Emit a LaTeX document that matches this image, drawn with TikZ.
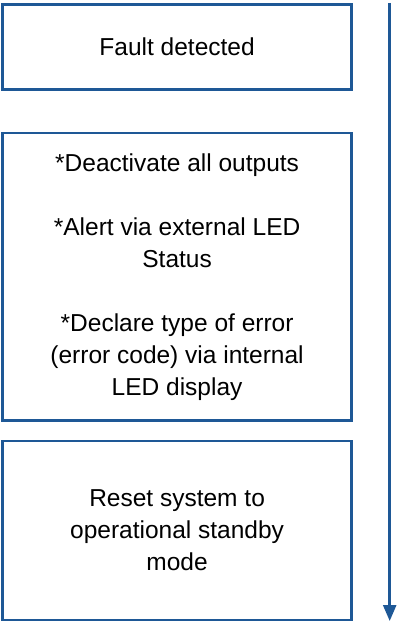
\documentclass[tikz,border=0pt]{standalone}
\usepackage{fontspec}
\setmainfont{Liberation Sans}
\usetikzlibrary{arrows.meta}

\definecolor{flowblue}{RGB}{30,88,150}

\tikzset{
	stepbox/.style={draw=flowblue,line width=2.7bp,minimum width=349bp,align=center,inner sep=0pt,
		font=\fontsize{24.5bp}{32bp}\selectfont},
}

\begin{document}
\begin{tikzpicture}[x=1bp,y=-1bp]
	\useasboundingbox (0,0) rectangle (397,622);
	% the three steps
	\node[stepbox,minimum height=85bp] (fault) at (177.1,47) {Fault detected};
	\node[stepbox,minimum height=287.5bp] (react) at (177.1,276.75) {*Deactivate all outputs\\[32bp]*Alert via external LED\\Status\\[32bp]*Declare type of error\\(error code) via internal\\LED display};
	\node[stepbox,minimum height=179bp] (reset) at (177.1,530.5) {Reset system to\\operational standby\\mode};
	% order of the steps
	\coordinate (flowtop) at (389.7,3);
	\coordinate (flowend) at (389.7,621);
	\draw[flowblue,line width=2.5bp,-{Triangle[length=16bp,width=13bp]}] (flowtop) -- (flowend);
\end{tikzpicture}
\end{document}
